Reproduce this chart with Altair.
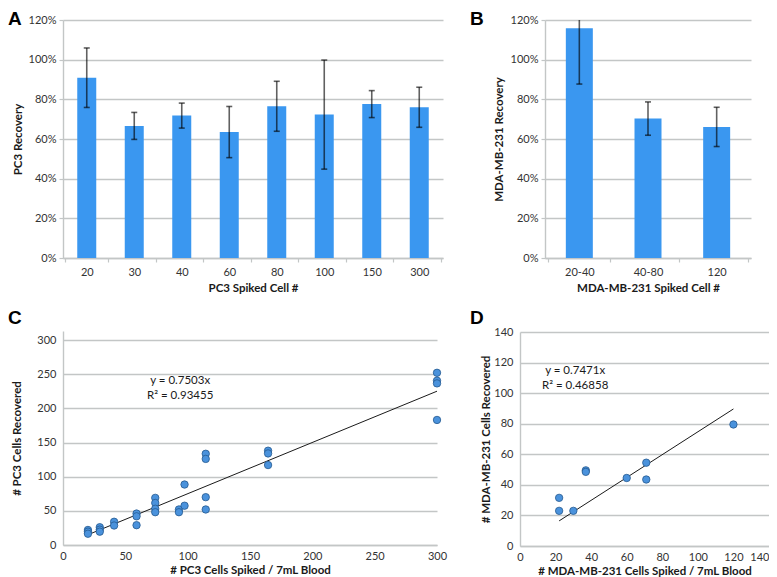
import altair as alt
import pandas as pd

# ---------------- data ----------------
# Panel A: PC3 recovery (mean, +/- error)
a_cells = ["20", "30", "40", "60", "80", "100", "150", "300"]
a_mean = [0.909, 0.666, 0.718, 0.635, 0.765, 0.723, 0.776, 0.760]
a_err = [0.150, 0.068, 0.063, 0.129, 0.126, 0.275, 0.068, 0.101]

# Panel B: MDA-MB-231 recovery
b_cells = ["20-40", "40-80", "120"]
b_mean = [1.158, 0.703, 0.661]
b_err = [0.281, 0.084, 0.099]

# Panel C: PC3 spiked vs recovered
c_spiked = [20, 20, 20, 29.5, 29.5, 29.5, 41, 41, 59, 59, 59,
            74, 74, 74, 74, 93, 93, 97.5, 97.5,
            114.5, 114.5, 114.5, 114.5, 164.5, 164.5, 164.5,
            300, 300, 300, 300]
c_recov = [22, 19.5, 16.5, 26, 22.5, 19.5, 34, 28.5, 46, 42, 29,
           69, 61.5, 53, 48, 52, 48, 88.5, 57.5,
           133.5, 126, 70, 52, 138, 134, 117,
           252, 240.5, 236.5, 183]
c_slope = 0.7503
c_fit_x = [20, 300]
c_eq = ["y = 0.7503x", "R² = 0.93455"]

# Panel D: MDA-MB-231 spiked vs recovered
d_spiked = [22, 22, 30, 37, 37, 60, 71, 71, 120]
d_recov = [31.5, 23, 23, 49.5, 48.5, 44.5, 54.5, 43.5, 79.5]
d_slope = 0.7471
d_fit_x = [22, 120]
d_eq = ["y = 0.7471x", "R² = 0.46858"]

# ---------------- style ----------------
BAR = "#3a97f0"
GRID = "#c3c6c6"
FONT = "Lato"
LETTER_FONT = "Liberation Sans"


def letter(t, dx, offset):
    return alt.TitleParams(text=t, anchor="start", frame="group", dx=dx,
                           offset=offset, font=LETTER_FONT, fontSize=19,
                           fontWeight="bold", color="#000000")


def bar_panel(cells, mean, err, xtitle, ytitle, width, barsize, title, ytx):
    df = pd.DataFrame({"cell": cells, "mean": mean,
                       "lo": [m - e for m, e in zip(mean, err)],
                       "hi": [m + e for m, e in zip(mean, err)]})
    x = alt.X("cell:N", sort=cells,
              axis=alt.Axis(title=xtitle, labelAngle=0, tickBand="extent",
                            tickSize=4, labelPadding=4, titlePadding=5))
    y_axis = alt.Axis(title=ytitle, values=[0, 0.2, 0.4, 0.6, 0.8, 1.0, 1.2],
                      tickCount=20, format=".0%", grid=True, tickSize=4,
                      labelPadding=3, titleX=ytx, titleBaseline="middle")
    yscale = alt.Scale(domain=[0, 1.2], nice=False)
    bars = alt.Chart(df).mark_bar(size=barsize, color=BAR).encode(
        x=x, y=alt.Y("mean:Q", scale=yscale, axis=y_axis))
    rules = alt.Chart(df).mark_rule(color="#000000", opacity=0.62,
                                    strokeWidth=1.6, clip=True).encode(
        x=x, y=alt.Y("lo:Q", scale=yscale), y2="hi:Q")
    caps_hi = alt.Chart(df).mark_tick(color="#000000", opacity=0.62, size=6,
                                      thickness=1.6, clip=True).encode(
        x=x, y=alt.Y("hi:Q", scale=yscale))
    caps_lo = alt.Chart(df).mark_tick(color="#000000", opacity=0.62, size=6,
                                      thickness=1.6, clip=True).encode(
        x=x, y=alt.Y("lo:Q", scale=yscale))
    return alt.layer(bars, rules, caps_hi, caps_lo).properties(
        width=width, height=238, title=title)


def scatter_panel(xs, ys, slope, fit_x, eq, xmax, xstep, ymax, ystep, ydom,
                  xtitle, ytitle, width, height, eq_x, eq_y, title, ytx):
    df = pd.DataFrame({"x": xs, "y": ys})
    fit = pd.DataFrame({"x": fit_x, "y": [slope * v for v in fit_x]})
    txt = pd.DataFrame({"x": [eq_x, eq_x], "y": eq_y, "t": eq})
    xscale = alt.Scale(domain=[0, xmax], nice=False)
    yscale = alt.Scale(domain=[0, ydom], nice=False)
    xaxis = alt.Axis(title=xtitle, values=list(range(0, xmax + 1, xstep)),
                     tickCount=20, grid=False, ticks=False, labelPadding=5,
                     titlePadding=3, labelFlush=False,
                     labelAlign={"condition": {"test": f"datum.value >= {xmax}",
                                               "value": "right" if xmax == 140 else "center"},
                                 "value": "center"})
    yaxis = alt.Axis(title=ytitle, values=list(range(0, ymax + 1, ystep)),
                     tickCount=20, grid=True, ticks=False, labelPadding=7,
                     titleX=ytx, titleBaseline="middle")
    pts = alt.Chart(df).mark_circle(size=55, color="#4a92dc", opacity=1,
                                    stroke="#24598f", strokeWidth=0.8).encode(
        x=alt.X("x:Q", scale=xscale, axis=xaxis),
        y=alt.Y("y:Q", scale=yscale, axis=yaxis))
    line = alt.Chart(fit).mark_line(color="#1a1a1a", strokeWidth=1).encode(
        x=alt.X("x:Q", scale=xscale), y=alt.Y("y:Q", scale=yscale))
    labels = alt.Chart(txt).mark_text(font=FONT, fontSize=11.5,
                                      color="#1a1a1a", align="center").encode(
        x=alt.X("x:Q", scale=xscale), y=alt.Y("y:Q", scale=yscale),
        text="t:N")
    return alt.layer(line, pts, labels).properties(
        width=width, height=height, title=title)


A = bar_panel(a_cells, a_mean, a_err, "PC3 Spiked Cell #", "PC3 Recovery",
              380, 19, letter("A", -55, -15), -45)
B = bar_panel(b_cells, b_mean, b_err, "MDA-MB-231 Spiked Cell #",
              "MDA-MB-231 Recovery", 206, 27, letter("B", -75, -15), -46)
C = scatter_panel(c_spiked, c_recov, c_slope, c_fit_x, c_eq, 300, 50, 300, 50,
                  300 * 214 / 205, "# PC3 Cells Spiked / 7mL Blood",
                  "# PC3 Cells Recovered", 374, 214, 94, [240, 218],
                  letter("C", -55, 3), -46)
D = scatter_panel(d_spiked, d_recov, d_slope, d_fit_x, d_eq, 140, 20, 140, 20,
                  140, "# MDA-MB-231 Cells Spiked / 7mL Blood",
                  "# MDA-MB-231 Cells Recovered", 249, 214, 31, [114.5, 105],
                  letter("D", -50, -2), -34)

chart = alt.concat(A, B, C, D, columns=2, align="none",
                   spacing={"row": 15, "column": 23}).properties(
    padding={"top": 2, "left": 0, "right": 0, "bottom": 0}
).configure_view(stroke=None).configure_axis(
    labelFont=FONT, labelFontSize=11, labelColor="#333333",
    titleFont=FONT, titleFontSize=11.5, titleFontWeight="bold",
    titleColor="#1a1a1a", gridColor=GRID, gridWidth=1.4,
    domainColor=GRID, domainWidth=1.4, tickColor=GRID, tickWidth=1.2
).configure_title(fontWeight="bold")

chart.save("out.html", embed_options={"renderer": "svg", "actions": False})
